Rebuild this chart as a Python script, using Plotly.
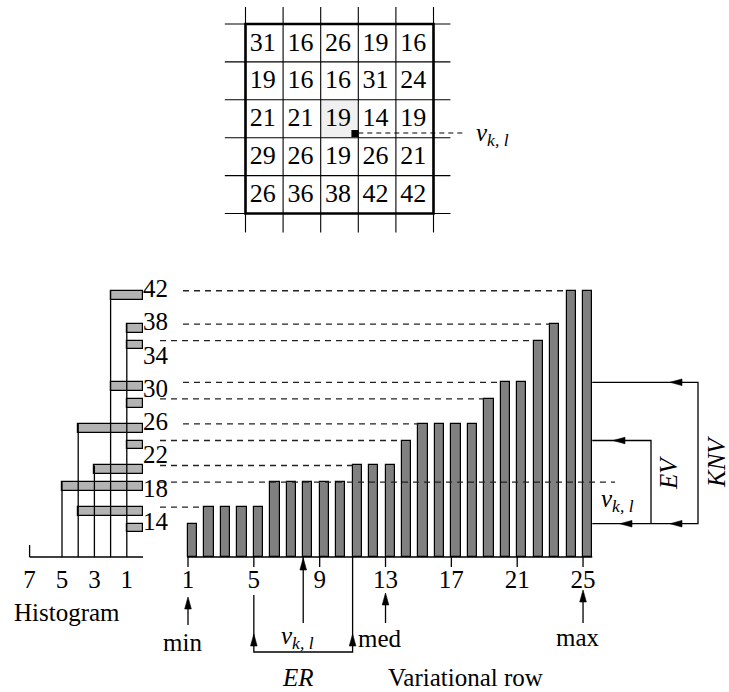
import plotly.graph_objects as go

# ---------------- data ----------------
GRID_VALUES = [
    [31, 16, 26, 19, 16],
    [19, 16, 16, 31, 24],
    [21, 21, 19, 14, 19],
    [29, 26, 19, 26, 21],
    [26, 36, 38, 42, 42],
]
CENTER_CELL = (2, 2)  # (row, col)
VARIATIONAL_ROW = [14, 16, 16, 16, 16, 19, 19, 19, 19, 19, 21, 21, 21, 24,
                   26, 26, 26, 26, 29, 31, 31, 36, 38, 42, 42]
RANK_TICKS = [1, 5, 9, 13, 17, 21, 25]
HIST_LEVELS = [14, 16, 19, 21, 24, 26, 29, 31, 36, 38, 42]
HIST_COUNTS = [1, 4, 5, 3, 1, 4, 1, 2, 1, 1, 2]
HIST_TICKS = [7, 5, 3, 1]
HIST_AXIS_MAX = 7
VALUE_LABELS = [14, 18, 22, 26, 30, 34, 38, 42]
V_KL = 19
V_KL_RANK = 8
MIN_RANK, MED_RANK, MAX_RANK = 1, 13, 25
ER_RANKS = (5, 11)
EV_RANGE = (14, 24)
KNV_RANGE = (14, 31)

# ---------------- layout geometry (pixels) ----------------
W, H = 729, 692
BAR_X0_PX, BAR_DX = 188.0, 16.46      # rank 1 left edge, px per rank
BASE_PY, DY, BASE_V = 557.0, 8.32, 10.0
HIST_X0_PX, HIST_DX = 143.0, 16.2
GRID_X0, GRID_Y0, CELL_W, CELL_H = 245.5, 24.0, 37.6, 37.9
BAR_W = 0.56
FONT = "Liberation Serif, Times New Roman, serif"
NUM_SIZE = 25
WORD_SIZE = 25


def px2x(px):
    return 1 + (px - BAR_X0_PX) / BAR_DX


def py2v(py):
    return BASE_V + (BASE_PY - py) / DY


def hx(px):
    return (HIST_X0_PX - px) / HIST_DX


def gu(px):
    return (px - GRID_X0) / CELL_W


def gr(py):
    return (py - GRID_Y0) / CELL_H


VKL_TXT = "<i>v</i><sub><i>k, l</i></sub>"

fig = go.Figure()
shapes = []
annotations = []

# ---------------- grid (top) ----------------
rc, cc = CENTER_CELL
shapes.append(dict(type="rect", xref="x3", yref="y3", x0=cc, x1=cc + 1, y0=rc, y1=rc + 1,
                   fillcolor="#f0f0f0", line=dict(width=0), layer="below"))
n = len(GRID_VALUES)
gx, gy = [], []
for k in range(n + 1):
    gx += [k, k, None]
    gy += [-0.45, n + 0.5, None]
    gx += [-0.55, n + 0.45, None]
    gy += [k, k, None]
fig.add_trace(go.Scatter(x=gx, y=gy, mode="lines", xaxis="x3", yaxis="y3",
                         line=dict(color="black", width=1.1), hoverinfo="skip"))
shapes.append(dict(type="rect", xref="x3", yref="y3", x0=0, x1=n, y0=0, y1=n,
                   line=dict(color="black", width=2.6)))
tx, ty, tt = [], [], []
for i, row in enumerate(GRID_VALUES):
    for j, v in enumerate(row):
        tx.append(j + 0.46)
        ty.append(i + 0.53)
        tt.append(str(v))
fig.add_trace(go.Scatter(x=tx, y=ty, text=tt, mode="text", xaxis="x3", yaxis="y3",
                         textfont=dict(size=26, color="black", family=FONT), hoverinfo="skip"))
# marker of the central pixel + dashed pointer
fig.add_trace(go.Scatter(x=[cc + 1 - 0.09], y=[rc + 1 - 0.11], mode="markers", xaxis="x3", yaxis="y3",
                         marker=dict(symbol="square", size=7, color="black"), hoverinfo="skip"))
fig.add_trace(go.Scatter(x=[cc + 1, gu(464)], y=[gr(133), gr(133)], mode="lines", xaxis="x3", yaxis="y3",
                         line=dict(color="black", width=1.2, dash="5px,4px"), hoverinfo="skip"))
annotations.append(dict(xref="x3", yref="y3", x=gu(474), y=gr(134), text=VKL_TXT, showarrow=False,
                        xanchor="left", yanchor="middle", font=dict(size=WORD_SIZE, family=FONT)))

# ---------------- dashed level lines ----------------
LATE_START = {42, 38, 31, 26}
dx, dy = [], []
vx, vy = [], []
for lev in HIST_LEVELS:
    if lev == VARIATIONAL_ROW[0]:
        continue
    start = px2x(183) if lev in LATE_START else px2x(160)
    if lev == V_KL:
        vx += [start, px2x(615)]
        vy += [lev, lev]
        continue
    end = VARIATIONAL_ROW.index(lev) + 1
    dx += [start, end, None]
    dy += [lev, lev, None]
fig.add_trace(go.Scatter(x=dx, y=dy, mode="lines", line=dict(color="#222", width=1.3, dash="6px,5px"),
                         hoverinfo="skip"))

# ---------------- histogram ----------------
hlx, hly = [HIST_AXIS_MAX, 0, None, HIST_AXIS_MAX, HIST_AXIS_MAX, None], \
    [BASE_V, BASE_V, None, BASE_V, py2v(545), None]
for c in sorted(set(HIST_COUNTS)):
    top = max(l for l, k in zip(HIST_LEVELS, HIST_COUNTS) if k == c)
    hlx += [c, c, None]
    hly += [top, BASE_V, None]
fig.add_trace(go.Scatter(x=hlx, y=hly, mode="lines", xaxis="x2", yaxis="y",
                         line=dict(color="black", width=1.3), hoverinfo="skip"))
fig.add_trace(go.Bar(x=HIST_COUNTS, y=HIST_LEVELS, orientation="h", xaxis="x2", yaxis="y",
                     width=1.05, offset=-1.05, marker=dict(color="#b3b3b3", line=dict(color="black", width=1.2)),
                     hoverinfo="skip"))
fig.add_trace(go.Scatter(x=HIST_TICKS, y=[py2v(582)] * len(HIST_TICKS), text=[str(t) for t in HIST_TICKS],
                         mode="text", xaxis="x2", yaxis="y",
                         textfont=dict(size=NUM_SIZE, family=FONT, color="black"), hoverinfo="skip"))
fig.add_trace(go.Scatter(x=[hx(143)] * len(VALUE_LABELS), y=VALUE_LABELS, text=[str(v) for v in VALUE_LABELS],
                         mode="text", textposition="middle right", xaxis="x2", yaxis="y",
                         textfont=dict(size=NUM_SIZE, family=FONT, color="black"), hoverinfo="skip"))
annotations.append(dict(xref="x2", yref="y", x=hx(67), y=py2v(612), text="Histogram", showarrow=False,
                        font=dict(size=WORD_SIZE, family=FONT)))

# ---------------- variational row bars ----------------
ranks = list(range(1, len(VARIATIONAL_ROW) + 1))
fig.add_trace(go.Bar(x=ranks, y=[v - BASE_V for v in VARIATIONAL_ROW], base=BASE_V, offset=0, width=BAR_W,
                     marker=dict(color="#808080", line=dict(color="black", width=1.2)), hoverinfo="skip"))
fig.add_trace(go.Scatter(x=vx, y=vy, mode="lines", line=dict(color="#222", width=1.3, dash="6px,5px"),
                         hoverinfo="skip"))

right = ranks[-1] + BAR_W
sx, sy = [px2x(187), right, None], [BASE_V, BASE_V, None]
for t in RANK_TICKS:
    sx += [t, t, None]
    sy += [BASE_V, py2v(567), None]
shaft_bottom = py2v(623)
for r_, tip in [(MIN_RANK, py2v(600)), (V_KL_RANK, BASE_V), (MED_RANK, py2v(596)), (MAX_RANK, py2v(593))]:
    sx += [r_, r_, None]
    sy += [shaft_bottom if r_ != MIN_RANK else py2v(625), tip, None]
er_y = py2v(652)
sx += [ER_RANKS[0], ER_RANKS[0], ER_RANKS[1], ER_RANKS[1], None]
sy += [py2v(595), er_y, er_y, BASE_V, None]
knv_x, ev_x = px2x(698), px2x(651)
sx += [right, knv_x, knv_x, right, None]
sy += [KNV_RANGE[1], KNV_RANGE[1], KNV_RANGE[0], KNV_RANGE[0], None]
sx += [right, ev_x, ev_x, None]
sy += [EV_RANGE[1], EV_RANGE[1], EV_RANGE[0], None]
fig.add_trace(go.Scatter(x=sx, y=sy, mode="lines", line=dict(color="black", width=1.3), hoverinfo="skip"))
fig.add_trace(go.Scatter(x=RANK_TICKS, y=[py2v(582)] * len(RANK_TICKS), text=[str(t) for t in RANK_TICKS],
                         mode="text", textfont=dict(size=NUM_SIZE, family=FONT, color="black"), hoverinfo="skip"))


def arrowhead(x, y, direction):
    L, hw = 12, 3.3
    if direction == "up":
        path = f"M0,0 L{-hw},{-L} L{hw},{-L} Z"
    else:
        path = f"M0,0 L{L},{hw} L{L},{-hw} Z"
    return dict(type="path", xref="x", yref="y", xsizemode="pixel", ysizemode="pixel",
                xanchor=x, yanchor=y, path=path, fillcolor="black", line=dict(color="black", width=0.6))


for x_, y_ in [(MIN_RANK, py2v(597)), (V_KL_RANK, py2v(558)), (MED_RANK, py2v(593)),
               (MAX_RANK, py2v(590)), (ER_RANKS[0], py2v(634)), (ER_RANKS[1], py2v(634))]:
    shapes.append(arrowhead(x_, y_, "up"))
for x_, y_ in [(px2x(670), KNV_RANGE[1]), (px2x(670), KNV_RANGE[0]),
               (px2x(613), EV_RANGE[1]), (px2x(620), EV_RANGE[0])]:
    shapes.append(arrowhead(x_, y_, "left"))

for txt, px, py, extra in [
    ("min", 182, 642, {}),
    (VKL_TXT, 297, 637, {}),
    ("med", 380, 638, {}),
    ("max", 578, 637, {}),
    ("<i>ER</i>", 298, 677, {}),
    ("Variational row", 465, 677, {}),
    ("<i>EV</i>", 668, 473, {"textangle": -90}),
    ("<i>KNV</i>", 716, 462, {"textangle": -90}),
    (VKL_TXT, 617, 500, {}),
]:
    a = dict(xref="x", yref="y", x=px2x(px), y=py2v(py), text=txt, showarrow=False,
             font=dict(size=WORD_SIZE, family=FONT, color="black"), xanchor="center", yanchor="middle")
    a.update(extra)
    annotations.append(a)

ax_common = dict(visible=False, showgrid=False, zeroline=False, fixedrange=True)
fig.update_layout(
    width=W, height=H, margin=dict(l=0, r=0, t=0, b=0),
    paper_bgcolor="white", plot_bgcolor="rgba(0,0,0,0)", showlegend=False,
    font=dict(family=FONT, color="black"),
    xaxis=dict(range=[px2x(0), px2x(W)], domain=[0, 1], anchor="y", **ax_common),
    yaxis=dict(range=[py2v(H), py2v(0)], domain=[0, 1], anchor="x", **ax_common),
    xaxis2=dict(range=[hx(0), hx(W)], domain=[0, 1], anchor="y", overlaying="x", **ax_common),
    xaxis3=dict(range=[gu(0), gu(W)], domain=[0, 1], anchor="y3", **ax_common),
    yaxis3=dict(range=[gr(H), gr(0)], domain=[0, 1], anchor="x3", **ax_common),
    shapes=shapes, annotations=annotations, bargap=0,
)
fig.write_html("out.html", config={"displayModeBar": False},
               post_script="document.body.style.margin='0';document.body.style.overflow='hidden';")
